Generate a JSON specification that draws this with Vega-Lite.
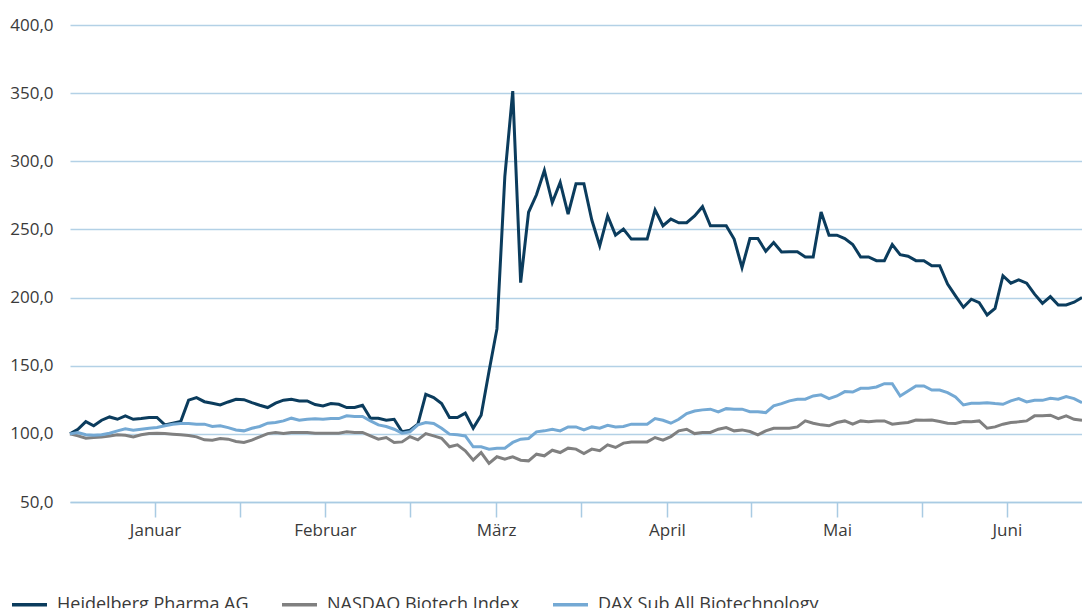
{
 "$schema": "https://vega.github.io/schema/vega-lite/v6.json",
 "width": 1012, "height": 477,
 "autosize": {"type": "none"},
 "padding": {"left": 70, "top": 25, "right": 0, "bottom": 106},
 "background": "white",
 "config": {"view": {"stroke": null}, "font": "Open Sans"},
 "data": {"values": [
  {"i":0,"s":"Heidelberg Pharma AG","v":100},{"i":1,"s":"Heidelberg Pharma AG","v":103.4},{"i":2,"s":"Heidelberg Pharma AG","v":109},{"i":3,"s":"Heidelberg Pharma AG","v":105.9},{"i":4,"s":"Heidelberg Pharma AG","v":110},{"i":5,"s":"Heidelberg Pharma AG","v":112.4},{"i":6,"s":"Heidelberg Pharma AG","v":110.7},{"i":7,"s":"Heidelberg Pharma AG","v":113.2},{"i":8,"s":"Heidelberg Pharma AG","v":110.7},{"i":9,"s":"Heidelberg Pharma AG","v":111.2},
  {"i":10,"s":"Heidelberg Pharma AG","v":112},{"i":11,"s":"Heidelberg Pharma AG","v":112},{"i":12,"s":"Heidelberg Pharma AG","v":106.6},{"i":13,"s":"Heidelberg Pharma AG","v":107.8},{"i":14,"s":"Heidelberg Pharma AG","v":109},{"i":15,"s":"Heidelberg Pharma AG","v":124.7},{"i":16,"s":"Heidelberg Pharma AG","v":126.6},{"i":17,"s":"Heidelberg Pharma AG","v":123.6},{"i":18,"s":"Heidelberg Pharma AG","v":122.5},{"i":19,"s":"Heidelberg Pharma AG","v":121.2},
  {"i":20,"s":"Heidelberg Pharma AG","v":123.4},{"i":21,"s":"Heidelberg Pharma AG","v":125.4},{"i":22,"s":"Heidelberg Pharma AG","v":125.1},{"i":23,"s":"Heidelberg Pharma AG","v":122.9},{"i":24,"s":"Heidelberg Pharma AG","v":121},{"i":25,"s":"Heidelberg Pharma AG","v":119.3},{"i":26,"s":"Heidelberg Pharma AG","v":122.5},{"i":27,"s":"Heidelberg Pharma AG","v":124.7},{"i":28,"s":"Heidelberg Pharma AG","v":125.4},{"i":29,"s":"Heidelberg Pharma AG","v":124.2},
  {"i":30,"s":"Heidelberg Pharma AG","v":124.2},{"i":31,"s":"Heidelberg Pharma AG","v":121.5},{"i":32,"s":"Heidelberg Pharma AG","v":120.5},{"i":33,"s":"Heidelberg Pharma AG","v":122.2},{"i":34,"s":"Heidelberg Pharma AG","v":121.7},{"i":35,"s":"Heidelberg Pharma AG","v":119.3},{"i":36,"s":"Heidelberg Pharma AG","v":119.3},{"i":37,"s":"Heidelberg Pharma AG","v":121},{"i":38,"s":"Heidelberg Pharma AG","v":111.5},{"i":39,"s":"Heidelberg Pharma AG","v":111.5},
  {"i":40,"s":"Heidelberg Pharma AG","v":110},{"i":41,"s":"Heidelberg Pharma AG","v":110.7},{"i":42,"s":"Heidelberg Pharma AG","v":101.5},{"i":43,"s":"Heidelberg Pharma AG","v":102.7},{"i":44,"s":"Heidelberg Pharma AG","v":107.1},{"i":45,"s":"Heidelberg Pharma AG","v":129},{"i":46,"s":"Heidelberg Pharma AG","v":126.6},{"i":47,"s":"Heidelberg Pharma AG","v":122.2},{"i":48,"s":"Heidelberg Pharma AG","v":112},{"i":49,"s":"Heidelberg Pharma AG","v":112},
  {"i":50,"s":"Heidelberg Pharma AG","v":115.2},{"i":51,"s":"Heidelberg Pharma AG","v":104.2},{"i":52,"s":"Heidelberg Pharma AG","v":113.7},{"i":53,"s":"Heidelberg Pharma AG","v":146},{"i":54,"s":"Heidelberg Pharma AG","v":177},{"i":55,"s":"Heidelberg Pharma AG","v":289},{"i":56,"s":"Heidelberg Pharma AG","v":351.5},{"i":57,"s":"Heidelberg Pharma AG","v":211},{"i":58,"s":"Heidelberg Pharma AG","v":262.6},{"i":59,"s":"Heidelberg Pharma AG","v":275.4},
  {"i":60,"s":"Heidelberg Pharma AG","v":293.3},{"i":61,"s":"Heidelberg Pharma AG","v":269.7},{"i":62,"s":"Heidelberg Pharma AG","v":284.5},{"i":63,"s":"Heidelberg Pharma AG","v":261.3},{"i":64,"s":"Heidelberg Pharma AG","v":283.5},{"i":65,"s":"Heidelberg Pharma AG","v":283.5},{"i":66,"s":"Heidelberg Pharma AG","v":256.9},{"i":67,"s":"Heidelberg Pharma AG","v":238},{"i":68,"s":"Heidelberg Pharma AG","v":259.9},{"i":69,"s":"Heidelberg Pharma AG","v":245.8},
  {"i":70,"s":"Heidelberg Pharma AG","v":250.2},{"i":71,"s":"Heidelberg Pharma AG","v":242.9},{"i":72,"s":"Heidelberg Pharma AG","v":242.9},{"i":73,"s":"Heidelberg Pharma AG","v":242.9},{"i":74,"s":"Heidelberg Pharma AG","v":264.3},{"i":75,"s":"Heidelberg Pharma AG","v":252.7},{"i":76,"s":"Heidelberg Pharma AG","v":257.6},{"i":77,"s":"Heidelberg Pharma AG","v":254.9},{"i":78,"s":"Heidelberg Pharma AG","v":254.9},{"i":79,"s":"Heidelberg Pharma AG","v":259.9},
  {"i":80,"s":"Heidelberg Pharma AG","v":266.7},{"i":81,"s":"Heidelberg Pharma AG","v":252.7},{"i":82,"s":"Heidelberg Pharma AG","v":252.7},{"i":83,"s":"Heidelberg Pharma AG","v":252.7},{"i":84,"s":"Heidelberg Pharma AG","v":242.9},{"i":85,"s":"Heidelberg Pharma AG","v":222},{"i":86,"s":"Heidelberg Pharma AG","v":243.3},{"i":87,"s":"Heidelberg Pharma AG","v":243.3},{"i":88,"s":"Heidelberg Pharma AG","v":234},{"i":89,"s":"Heidelberg Pharma AG","v":240.4},
  {"i":90,"s":"Heidelberg Pharma AG","v":233.4},{"i":91,"s":"Heidelberg Pharma AG","v":233.7},{"i":92,"s":"Heidelberg Pharma AG","v":233.7},{"i":93,"s":"Heidelberg Pharma AG","v":229.8},{"i":94,"s":"Heidelberg Pharma AG","v":229.8},{"i":95,"s":"Heidelberg Pharma AG","v":262.8},{"i":96,"s":"Heidelberg Pharma AG","v":245.8},{"i":97,"s":"Heidelberg Pharma AG","v":245.8},{"i":98,"s":"Heidelberg Pharma AG","v":243.3},{"i":99,"s":"Heidelberg Pharma AG","v":238.9},
  {"i":100,"s":"Heidelberg Pharma AG","v":229.8},{"i":101,"s":"Heidelberg Pharma AG","v":229.8},{"i":102,"s":"Heidelberg Pharma AG","v":227.1},{"i":103,"s":"Heidelberg Pharma AG","v":227.1},{"i":104,"s":"Heidelberg Pharma AG","v":238.9},{"i":105,"s":"Heidelberg Pharma AG","v":231.5},{"i":106,"s":"Heidelberg Pharma AG","v":230.3},{"i":107,"s":"Heidelberg Pharma AG","v":227.1},{"i":108,"s":"Heidelberg Pharma AG","v":227.1},{"i":109,"s":"Heidelberg Pharma AG","v":223.4},
  {"i":110,"s":"Heidelberg Pharma AG","v":223.4},{"i":111,"s":"Heidelberg Pharma AG","v":209.9},{"i":112,"s":"Heidelberg Pharma AG","v":201.2},{"i":113,"s":"Heidelberg Pharma AG","v":192.9},{"i":114,"s":"Heidelberg Pharma AG","v":198.8},{"i":115,"s":"Heidelberg Pharma AG","v":196.3},{"i":116,"s":"Heidelberg Pharma AG","v":187.2},{"i":117,"s":"Heidelberg Pharma AG","v":192.1},{"i":118,"s":"Heidelberg Pharma AG","v":216},{"i":119,"s":"Heidelberg Pharma AG","v":210.6},
  {"i":120,"s":"Heidelberg Pharma AG","v":213},{"i":121,"s":"Heidelberg Pharma AG","v":210.6},{"i":122,"s":"Heidelberg Pharma AG","v":202.5},{"i":123,"s":"Heidelberg Pharma AG","v":195.8},{"i":124,"s":"Heidelberg Pharma AG","v":200.7},{"i":125,"s":"Heidelberg Pharma AG","v":194.6},{"i":126,"s":"Heidelberg Pharma AG","v":194.6},{"i":127,"s":"Heidelberg Pharma AG","v":196.6},{"i":128,"s":"Heidelberg Pharma AG","v":200},

  {"i":0,"s":"NASDAQ Biotech Index","v":100},{"i":1,"s":"NASDAQ Biotech Index","v":98.5},{"i":2,"s":"NASDAQ Biotech Index","v":96.8},{"i":3,"s":"NASDAQ Biotech Index","v":97.3},{"i":4,"s":"NASDAQ Biotech Index","v":97.6},{"i":5,"s":"NASDAQ Biotech Index","v":98.5},{"i":6,"s":"NASDAQ Biotech Index","v":99.3},{"i":7,"s":"NASDAQ Biotech Index","v":99},{"i":8,"s":"NASDAQ Biotech Index","v":97.8},{"i":9,"s":"NASDAQ Biotech Index","v":99.3},
  {"i":10,"s":"NASDAQ Biotech Index","v":100.2},{"i":11,"s":"NASDAQ Biotech Index","v":100.5},{"i":12,"s":"NASDAQ Biotech Index","v":100.2},{"i":13,"s":"NASDAQ Biotech Index","v":99.8},{"i":14,"s":"NASDAQ Biotech Index","v":99.3},{"i":15,"s":"NASDAQ Biotech Index","v":98.8},{"i":16,"s":"NASDAQ Biotech Index","v":97.8},{"i":17,"s":"NASDAQ Biotech Index","v":95.6},{"i":18,"s":"NASDAQ Biotech Index","v":95.4},{"i":19,"s":"NASDAQ Biotech Index","v":96.6},
  {"i":20,"s":"NASDAQ Biotech Index","v":96.1},{"i":21,"s":"NASDAQ Biotech Index","v":94.4},{"i":22,"s":"NASDAQ Biotech Index","v":93.7},{"i":23,"s":"NASDAQ Biotech Index","v":95.4},{"i":24,"s":"NASDAQ Biotech Index","v":97.8},{"i":25,"s":"NASDAQ Biotech Index","v":100.2},{"i":26,"s":"NASDAQ Biotech Index","v":101},{"i":27,"s":"NASDAQ Biotech Index","v":100.2},{"i":28,"s":"NASDAQ Biotech Index","v":101},{"i":29,"s":"NASDAQ Biotech Index","v":101},
  {"i":30,"s":"NASDAQ Biotech Index","v":101},{"i":31,"s":"NASDAQ Biotech Index","v":100.5},{"i":32,"s":"NASDAQ Biotech Index","v":100.5},{"i":33,"s":"NASDAQ Biotech Index","v":100.5},{"i":34,"s":"NASDAQ Biotech Index","v":100.5},{"i":35,"s":"NASDAQ Biotech Index","v":101.5},{"i":36,"s":"NASDAQ Biotech Index","v":101},{"i":37,"s":"NASDAQ Biotech Index","v":101},{"i":38,"s":"NASDAQ Biotech Index","v":98.5},{"i":39,"s":"NASDAQ Biotech Index","v":96.1},
  {"i":40,"s":"NASDAQ Biotech Index","v":97.3},{"i":41,"s":"NASDAQ Biotech Index","v":93.7},{"i":42,"s":"NASDAQ Biotech Index","v":94.1},{"i":43,"s":"NASDAQ Biotech Index","v":98},{"i":44,"s":"NASDAQ Biotech Index","v":95.6},{"i":45,"s":"NASDAQ Biotech Index","v":100.2},{"i":46,"s":"NASDAQ Biotech Index","v":98.5},{"i":47,"s":"NASDAQ Biotech Index","v":96.8},{"i":48,"s":"NASDAQ Biotech Index","v":90.5},{"i":49,"s":"NASDAQ Biotech Index","v":91.9},
  {"i":50,"s":"NASDAQ Biotech Index","v":87.6},{"i":51,"s":"NASDAQ Biotech Index","v":80.7},{"i":52,"s":"NASDAQ Biotech Index","v":86.3},{"i":53,"s":"NASDAQ Biotech Index","v":78.3},{"i":54,"s":"NASDAQ Biotech Index","v":83.2},{"i":55,"s":"NASDAQ Biotech Index","v":81.5},{"i":56,"s":"NASDAQ Biotech Index","v":83.2},{"i":57,"s":"NASDAQ Biotech Index","v":80.7},{"i":58,"s":"NASDAQ Biotech Index","v":80.2},{"i":59,"s":"NASDAQ Biotech Index","v":85.1},
  {"i":60,"s":"NASDAQ Biotech Index","v":83.9},{"i":61,"s":"NASDAQ Biotech Index","v":88},{"i":62,"s":"NASDAQ Biotech Index","v":86.3},{"i":63,"s":"NASDAQ Biotech Index","v":89.5},{"i":64,"s":"NASDAQ Biotech Index","v":88.8},{"i":65,"s":"NASDAQ Biotech Index","v":85.6},{"i":66,"s":"NASDAQ Biotech Index","v":88.8},{"i":67,"s":"NASDAQ Biotech Index","v":87.6},{"i":68,"s":"NASDAQ Biotech Index","v":91.9},{"i":69,"s":"NASDAQ Biotech Index","v":90},
  {"i":70,"s":"NASDAQ Biotech Index","v":93.2},{"i":71,"s":"NASDAQ Biotech Index","v":94.1},{"i":72,"s":"NASDAQ Biotech Index","v":94.1},{"i":73,"s":"NASDAQ Biotech Index","v":94.1},{"i":74,"s":"NASDAQ Biotech Index","v":97.3},{"i":75,"s":"NASDAQ Biotech Index","v":95.4},{"i":76,"s":"NASDAQ Biotech Index","v":98},{"i":77,"s":"NASDAQ Biotech Index","v":102.2},{"i":78,"s":"NASDAQ Biotech Index","v":103.4},{"i":79,"s":"NASDAQ Biotech Index","v":100.2},
  {"i":80,"s":"NASDAQ Biotech Index","v":101},{"i":81,"s":"NASDAQ Biotech Index","v":101},{"i":82,"s":"NASDAQ Biotech Index","v":103.4},{"i":83,"s":"NASDAQ Biotech Index","v":104.6},{"i":84,"s":"NASDAQ Biotech Index","v":102.2},{"i":85,"s":"NASDAQ Biotech Index","v":102.9},{"i":86,"s":"NASDAQ Biotech Index","v":101.7},{"i":87,"s":"NASDAQ Biotech Index","v":99.3},{"i":88,"s":"NASDAQ Biotech Index","v":102.2},{"i":89,"s":"NASDAQ Biotech Index","v":104.1},
  {"i":90,"s":"NASDAQ Biotech Index","v":104.1},{"i":91,"s":"NASDAQ Biotech Index","v":104.1},{"i":92,"s":"NASDAQ Biotech Index","v":105.1},{"i":93,"s":"NASDAQ Biotech Index","v":109.5},{"i":94,"s":"NASDAQ Biotech Index","v":107.8},{"i":95,"s":"NASDAQ Biotech Index","v":106.6},{"i":96,"s":"NASDAQ Biotech Index","v":105.9},{"i":97,"s":"NASDAQ Biotech Index","v":108.3},{"i":98,"s":"NASDAQ Biotech Index","v":109.5},{"i":99,"s":"NASDAQ Biotech Index","v":107.1},
  {"i":100,"s":"NASDAQ Biotech Index","v":109.5},{"i":101,"s":"NASDAQ Biotech Index","v":108.8},{"i":102,"s":"NASDAQ Biotech Index","v":109.5},{"i":103,"s":"NASDAQ Biotech Index","v":109.5},{"i":104,"s":"NASDAQ Biotech Index","v":107.1},{"i":105,"s":"NASDAQ Biotech Index","v":107.8},{"i":106,"s":"NASDAQ Biotech Index","v":108.3},{"i":107,"s":"NASDAQ Biotech Index","v":110.2},{"i":108,"s":"NASDAQ Biotech Index","v":110},{"i":109,"s":"NASDAQ Biotech Index","v":110.2},
  {"i":110,"s":"NASDAQ Biotech Index","v":109},{"i":111,"s":"NASDAQ Biotech Index","v":107.8},{"i":112,"s":"NASDAQ Biotech Index","v":107.6},{"i":113,"s":"NASDAQ Biotech Index","v":109},{"i":114,"s":"NASDAQ Biotech Index","v":108.8},{"i":115,"s":"NASDAQ Biotech Index","v":109.5},{"i":116,"s":"NASDAQ Biotech Index","v":104.1},{"i":117,"s":"NASDAQ Biotech Index","v":105.1},{"i":118,"s":"NASDAQ Biotech Index","v":107.1},{"i":119,"s":"NASDAQ Biotech Index","v":108.3},
  {"i":120,"s":"NASDAQ Biotech Index","v":108.8},{"i":121,"s":"NASDAQ Biotech Index","v":109.5},{"i":122,"s":"NASDAQ Biotech Index","v":113.2},{"i":123,"s":"NASDAQ Biotech Index","v":113.2},{"i":124,"s":"NASDAQ Biotech Index","v":113.7},{"i":125,"s":"NASDAQ Biotech Index","v":111.2},{"i":126,"s":"NASDAQ Biotech Index","v":113.2},{"i":127,"s":"NASDAQ Biotech Index","v":110.7},{"i":128,"s":"NASDAQ Biotech Index","v":110},

  {"i":0,"s":"DAX Sub All Biotechnology","v":100},{"i":1,"s":"DAX Sub All Biotechnology","v":101},{"i":2,"s":"DAX Sub All Biotechnology","v":99.3},{"i":3,"s":"DAX Sub All Biotechnology","v":99},{"i":4,"s":"DAX Sub All Biotechnology","v":99.3},{"i":5,"s":"DAX Sub All Biotechnology","v":100.5},{"i":6,"s":"DAX Sub All Biotechnology","v":102.2},{"i":7,"s":"DAX Sub All Biotechnology","v":103.7},{"i":8,"s":"DAX Sub All Biotechnology","v":102.7},{"i":9,"s":"DAX Sub All Biotechnology","v":103.4},
  {"i":10,"s":"DAX Sub All Biotechnology","v":104.1},{"i":11,"s":"DAX Sub All Biotechnology","v":104.6},{"i":12,"s":"DAX Sub All Biotechnology","v":105.9},{"i":13,"s":"DAX Sub All Biotechnology","v":107.1},{"i":14,"s":"DAX Sub All Biotechnology","v":107.6},{"i":15,"s":"DAX Sub All Biotechnology","v":107.6},{"i":16,"s":"DAX Sub All Biotechnology","v":107.1},{"i":17,"s":"DAX Sub All Biotechnology","v":107.1},{"i":18,"s":"DAX Sub All Biotechnology","v":105.4},{"i":19,"s":"DAX Sub All Biotechnology","v":105.9},
  {"i":20,"s":"DAX Sub All Biotechnology","v":104.6},{"i":21,"s":"DAX Sub All Biotechnology","v":102.9},{"i":22,"s":"DAX Sub All Biotechnology","v":102.2},{"i":23,"s":"DAX Sub All Biotechnology","v":104.1},{"i":24,"s":"DAX Sub All Biotechnology","v":105.4},{"i":25,"s":"DAX Sub All Biotechnology","v":107.8},{"i":26,"s":"DAX Sub All Biotechnology","v":108.3},{"i":27,"s":"DAX Sub All Biotechnology","v":109.5},{"i":28,"s":"DAX Sub All Biotechnology","v":111.5},{"i":29,"s":"DAX Sub All Biotechnology","v":110},
  {"i":30,"s":"DAX Sub All Biotechnology","v":110.7},{"i":31,"s":"DAX Sub All Biotechnology","v":111},{"i":32,"s":"DAX Sub All Biotechnology","v":110.7},{"i":33,"s":"DAX Sub All Biotechnology","v":111.2},{"i":34,"s":"DAX Sub All Biotechnology","v":111.2},{"i":35,"s":"DAX Sub All Biotechnology","v":113.2},{"i":36,"s":"DAX Sub All Biotechnology","v":112.7},{"i":37,"s":"DAX Sub All Biotechnology","v":112.7},{"i":38,"s":"DAX Sub All Biotechnology","v":109.5},{"i":39,"s":"DAX Sub All Biotechnology","v":106.6},
  {"i":40,"s":"DAX Sub All Biotechnology","v":105.4},{"i":41,"s":"DAX Sub All Biotechnology","v":103.4},{"i":42,"s":"DAX Sub All Biotechnology","v":100.5},{"i":43,"s":"DAX Sub All Biotechnology","v":101.5},{"i":44,"s":"DAX Sub All Biotechnology","v":106.6},{"i":45,"s":"DAX Sub All Biotechnology","v":108.3},{"i":46,"s":"DAX Sub All Biotechnology","v":107.6},{"i":47,"s":"DAX Sub All Biotechnology","v":104.1},{"i":48,"s":"DAX Sub All Biotechnology","v":99.8},{"i":49,"s":"DAX Sub All Biotechnology","v":99.3},
  {"i":50,"s":"DAX Sub All Biotechnology","v":98.5},{"i":51,"s":"DAX Sub All Biotechnology","v":90.5},{"i":52,"s":"DAX Sub All Biotechnology","v":90.5},{"i":53,"s":"DAX Sub All Biotechnology","v":88.8},{"i":54,"s":"DAX Sub All Biotechnology","v":89.5},{"i":55,"s":"DAX Sub All Biotechnology","v":89.5},{"i":56,"s":"DAX Sub All Biotechnology","v":93.7},{"i":57,"s":"DAX Sub All Biotechnology","v":96.1},{"i":58,"s":"DAX Sub All Biotechnology","v":96.6},{"i":59,"s":"DAX Sub All Biotechnology","v":101.5},
  {"i":60,"s":"DAX Sub All Biotechnology","v":102.2},{"i":61,"s":"DAX Sub All Biotechnology","v":103.4},{"i":62,"s":"DAX Sub All Biotechnology","v":102.2},{"i":63,"s":"DAX Sub All Biotechnology","v":105.1},{"i":64,"s":"DAX Sub All Biotechnology","v":105.1},{"i":65,"s":"DAX Sub All Biotechnology","v":102.9},{"i":66,"s":"DAX Sub All Biotechnology","v":105.1},{"i":67,"s":"DAX Sub All Biotechnology","v":104.1},{"i":68,"s":"DAX Sub All Biotechnology","v":106.3},{"i":69,"s":"DAX Sub All Biotechnology","v":105.1},
  {"i":70,"s":"DAX Sub All Biotechnology","v":105.4},{"i":71,"s":"DAX Sub All Biotechnology","v":107.1},{"i":72,"s":"DAX Sub All Biotechnology","v":107.1},{"i":73,"s":"DAX Sub All Biotechnology","v":107.1},{"i":74,"s":"DAX Sub All Biotechnology","v":111.2},{"i":75,"s":"DAX Sub All Biotechnology","v":110},{"i":76,"s":"DAX Sub All Biotechnology","v":107.8},{"i":77,"s":"DAX Sub All Biotechnology","v":110.7},{"i":78,"s":"DAX Sub All Biotechnology","v":114.9},{"i":79,"s":"DAX Sub All Biotechnology","v":116.8},
  {"i":80,"s":"DAX Sub All Biotechnology","v":117.6},{"i":81,"s":"DAX Sub All Biotechnology","v":118.1},{"i":82,"s":"DAX Sub All Biotechnology","v":116.1},{"i":83,"s":"DAX Sub All Biotechnology","v":118.5},{"i":84,"s":"DAX Sub All Biotechnology","v":118.1},{"i":85,"s":"DAX Sub All Biotechnology","v":118.1},{"i":86,"s":"DAX Sub All Biotechnology","v":116.3},{"i":87,"s":"DAX Sub All Biotechnology","v":116.3},{"i":88,"s":"DAX Sub All Biotechnology","v":115.6},{"i":89,"s":"DAX Sub All Biotechnology","v":120.5},
  {"i":90,"s":"DAX Sub All Biotechnology","v":122.2},{"i":91,"s":"DAX Sub All Biotechnology","v":124.2},{"i":92,"s":"DAX Sub All Biotechnology","v":125.4},{"i":93,"s":"DAX Sub All Biotechnology","v":125.4},{"i":94,"s":"DAX Sub All Biotechnology","v":127.8},{"i":95,"s":"DAX Sub All Biotechnology","v":128.6},{"i":96,"s":"DAX Sub All Biotechnology","v":125.9},{"i":97,"s":"DAX Sub All Biotechnology","v":127.8},{"i":98,"s":"DAX Sub All Biotechnology","v":131},{"i":99,"s":"DAX Sub All Biotechnology","v":130.7},
  {"i":100,"s":"DAX Sub All Biotechnology","v":133.4},{"i":101,"s":"DAX Sub All Biotechnology","v":133.4},{"i":102,"s":"DAX Sub All Biotechnology","v":134.4},{"i":103,"s":"DAX Sub All Biotechnology","v":136.8},{"i":104,"s":"DAX Sub All Biotechnology","v":136.8},{"i":105,"s":"DAX Sub All Biotechnology","v":127.8},{"i":106,"s":"DAX Sub All Biotechnology","v":131.5},{"i":107,"s":"DAX Sub All Biotechnology","v":135.1},{"i":108,"s":"DAX Sub All Biotechnology","v":135.1},{"i":109,"s":"DAX Sub All Biotechnology","v":132.2},
  {"i":110,"s":"DAX Sub All Biotechnology","v":132.2},{"i":111,"s":"DAX Sub All Biotechnology","v":130.3},{"i":112,"s":"DAX Sub All Biotechnology","v":127.1},{"i":113,"s":"DAX Sub All Biotechnology","v":121.2},{"i":114,"s":"DAX Sub All Biotechnology","v":122.4},{"i":115,"s":"DAX Sub All Biotechnology","v":122.4},{"i":116,"s":"DAX Sub All Biotechnology","v":122.9},{"i":117,"s":"DAX Sub All Biotechnology","v":122.2},{"i":118,"s":"DAX Sub All Biotechnology","v":121.7},{"i":119,"s":"DAX Sub All Biotechnology","v":124.2},
  {"i":120,"s":"DAX Sub All Biotechnology","v":125.9},{"i":121,"s":"DAX Sub All Biotechnology","v":123.4},{"i":122,"s":"DAX Sub All Biotechnology","v":124.6},{"i":123,"s":"DAX Sub All Biotechnology","v":124.6},{"i":124,"s":"DAX Sub All Biotechnology","v":126.1},{"i":125,"s":"DAX Sub All Biotechnology","v":125.4},{"i":126,"s":"DAX Sub All Biotechnology","v":127.3},{"i":127,"s":"DAX Sub All Biotechnology","v":125.9},{"i":128,"s":"DAX Sub All Biotechnology","v":122.9}
 ]},
 "mark": {"type": "line", "strokeWidth": 3},
 "encoding": {
  "x": {"field": "i", "type": "quantitative",
   "scale": {"domain": [0, 128], "nice": false, "zero": false},
   "axis": {"title": null, "values": [10.75, 21.5, 32.25, 43, 53.9, 64.6, 75.5, 86.1, 97, 107.8, 118.5],
    "grid": false, "domain": true, "domainColor": "#a9cbe3", "domainWidth": 1.5,
    "ticks": true, "tickColor": "#a9cbe3", "tickSize": 15, "tickWidth": 1.5,
    "labelExpr": "datum.value < 11 ? 'Januar' : (datum.value > 32 && datum.value < 33) ? 'Februar' : (datum.value > 53 && datum.value < 54) ? 'März' : (datum.value > 75 && datum.value < 76) ? 'April' : (datum.value > 96 && datum.value < 98) ? 'Mai' : datum.value > 118 ? 'Juni' : ''",
    "labelFont": "Open Sans", "labelFontSize": 17, "labelColor": "#3a3a3a", "labelPadding": 5, "labelFlush": false, "labelOverlap": false}},
  "y": {"field": "v", "type": "quantitative",
   "scale": {"domain": [50, 400], "nice": false, "zero": false},
   "axis": {"title": null, "values": [50, 100, 150, 200, 250, 300, 350, 400],
    "grid": true, "gridColor": "#b3d1e6", "gridWidth": 1.5, "domain": false, "ticks": false,
    "labelPadding": 17, "labelExpr": "replace(format(datum.value, '.1f'), '.', ',')",
    "labelFont": "Open Sans", "labelFontSize": 17, "labelColor": "#3a3a3a"}},
  "color": {"field": "s", "type": "nominal",
   "scale": {"domain": ["Heidelberg Pharma AG", "NASDAQ Biotech Index", "DAX Sub All Biotechnology"], "range": ["#0b3c5d", "#808080", "#74a9d4"]},
   "legend": {"title": null, "orient": "none", "legendX": -60, "legendY": 560, "direction": "horizontal",
    "symbolType": "stroke", "symbolSize": 1225, "symbolStrokeWidth": 3.5, "labelFont": "Open Sans",
    "labelFontSize": 18, "labelLimit": 400, "labelColor": "#3a3a3a", "columnPadding": 26, "labelOffset": 8}}
 }
}
